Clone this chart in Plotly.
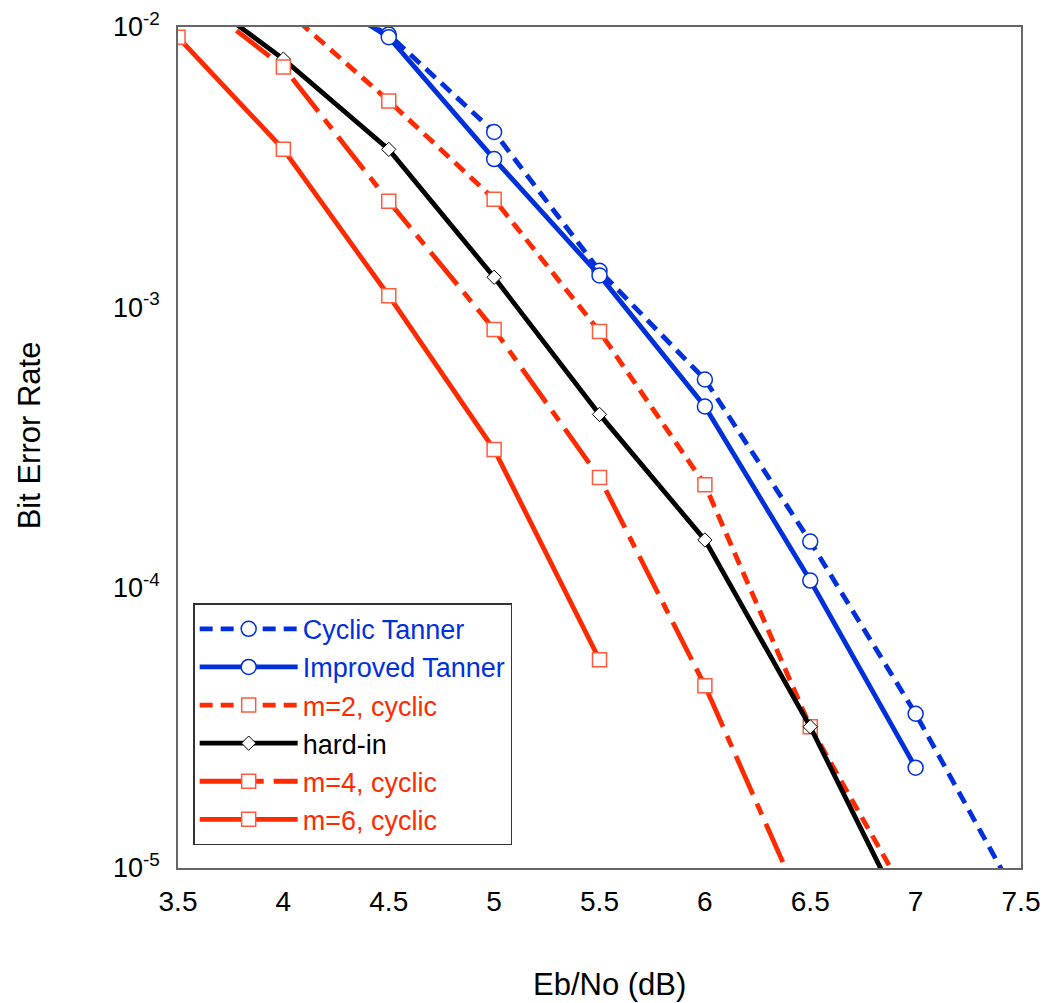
import plotly.graph_objects as go

# Eb/No (dB) and BER values
x_cyclic_tanner = [4.0, 4.5, 5.0, 5.5, 6.0, 6.5, 7.0, 7.5]
y_cyclic_tanner = [1.44e-2, 9.4e-3, 4.22e-3, 1.35e-3, 5.53e-4, 1.46e-4, 3.55e-5, 7.4e-6]

x_improved_tanner = [4.0, 4.5, 5.0, 5.5, 6.0, 6.5, 7.0]
y_improved_tanner = [1.58e-2, 9.2e-3, 3.38e-3, 1.30e-3, 4.43e-4, 1.06e-4, 2.28e-5]

x_m2 = [4.0, 4.5, 5.0, 5.5, 6.0, 6.5, 7.0]
y_m2 = [1.17e-2, 5.45e-3, 2.43e-3, 8.2e-4, 2.33e-4, 3.19e-5, 6.97e-6]

x_hard = [3.5, 4.0, 4.5, 5.0, 5.5, 6.0, 6.5, 7.0]
y_hard = [1.46e-2, 7.68e-3, 3.66e-3, 1.28e-3, 4.15e-4, 1.48e-4, 3.19e-5, 5.6e-6]

x_m4 = [3.5, 4.0, 4.5, 5.0, 5.5, 6.0, 6.5]
y_m4 = [1.41e-2, 7.2e-3, 2.39e-3, 8.34e-4, 2.47e-4, 4.47e-5, 6.3e-6]

x_m6 = [3.5, 4.0, 4.5, 5.0, 5.5]
y_m6 = [9.2e-3, 3.66e-3, 1.10e-3, 3.11e-4, 5.53e-5]

x_ticks = [3.5, 4, 4.5, 5, 5.5, 6, 6.5, 7, 7.5]
x_ticktext = ["3.5", "4", "4.5", "5", "5.5", "6", "6.5", "7", "7.5"]
y_ticks = [1e-2, 1e-3, 1e-4, 1e-5]
y_ticktext = ["10<sup>-2</sup>", "10<sup>-3</sup>", "10<sup>-4</sup>", "10<sup>-5</sup>"]

BLUE = "#0030dc"
RED = "#ff2a00"
LRED = "#ff5a3c"
LW = 4.8
FONT = "Liberation Sans, Arial, sans-serif"

def lab(text, color):
    return f"<span style='color:{color}'>{text}</span>"

fig = go.Figure()
fig.add_trace(go.Scatter(
    x=x_cyclic_tanner, y=y_cyclic_tanner, mode="lines+markers",
    name=lab("Cyclic Tanner", BLUE),
    line=dict(color=BLUE, width=LW, dash="13px,8px"),
    marker=dict(symbol="circle", size=15, color="white", line=dict(color=BLUE, width=1.5))))
fig.add_trace(go.Scatter(
    x=x_improved_tanner, y=y_improved_tanner, mode="lines+markers",
    name=lab("Improved Tanner", BLUE),
    line=dict(color=BLUE, width=LW),
    marker=dict(symbol="circle", size=15, color="white", line=dict(color=BLUE, width=1.5))))
fig.add_trace(go.Scatter(
    x=x_m2, y=y_m2, mode="lines+markers",
    name=lab("m=2, cyclic", RED),
    line=dict(color=RED, width=LW, dash="13px,8px"),
    marker=dict(symbol="square", size=14, color="white", line=dict(color=LRED, width=1.5))))
fig.add_trace(go.Scatter(
    x=x_hard, y=y_hard, mode="lines+markers",
    name=lab("hard-in", "black"),
    line=dict(color="black", width=LW),
    marker=dict(symbol="diamond", size=11, color="white", line=dict(color="black", width=1))))
fig.add_trace(go.Scatter(
    x=x_m4, y=y_m4, mode="lines+markers",
    name=lab("m=4, cyclic", RED),
    line=dict(color=RED, width=LW, dash="42px,10px,12px,10px"),
    marker=dict(symbol="square", size=14, color="white", line=dict(color=LRED, width=1.5))))
fig.add_trace(go.Scatter(
    x=x_m6, y=y_m6, mode="lines+markers",
    name=lab("m=6, cyclic", RED),
    line=dict(color=RED, width=LW),
    marker=dict(symbol="square", size=14, color="white", line=dict(color=LRED, width=1.5))))

fig.update_layout(
    width=1042, height=1003,
    margin=dict(l=178, r=21, t=27, b=135),
    paper_bgcolor="white", plot_bgcolor="white",
    font=dict(family=FONT, size=28, color="black"),
    showlegend=True,
    legend=dict(x=0.018, y=0.027, xanchor="left", yanchor="bottom",
                bgcolor="white", bordercolor="#333333", borderwidth=1.5,
                font=dict(family=FONT, size=27), tracegroupgap=0, itemwidth=98),
    annotations=[
        dict(text="Bit Error Rate", x=-0.176, y=0.514, xref="paper", yref="paper",
             textangle=-90, showarrow=False, xanchor="center", yanchor="middle",
             font=dict(family=FONT, size=31, color="black")),
        dict(text="Eb/No (dB)", x=0.512, y=-0.139, xref="paper", yref="paper",
             showarrow=False, xanchor="center", yanchor="middle",
             font=dict(family=FONT, size=31, color="black")),
    ],
)
fig.update_xaxes(
    range=[3.5, 7.5], tickvals=x_ticks, ticktext=x_ticktext,
    showgrid=False, zeroline=False, showline=True, mirror=True,
    linecolor="#666666", linewidth=1.5, automargin=False,
    ticks="outside", ticklen=8, tickcolor="rgba(0,0,0,0)",
    ticklabeloverflow="allow",
    tickfont=dict(family=FONT, size=28),
)
fig.update_yaxes(
    type="log", range=[-5, -2], tickvals=y_ticks, ticktext=y_ticktext,
    showgrid=False, zeroline=False, showline=True, mirror=True,
    linecolor="#666666", linewidth=1.5, automargin=False,
    ticks="outside", ticklen=11, tickcolor="rgba(0,0,0,0)",
    ticklabeloverflow="allow",
    tickfont=dict(family=FONT, size=27),
)

fig.write_html(
    "out.html",
    config={"displayModeBar": False},
    post_script="document.body.style.margin='0';document.body.style.overflow='hidden';",
)
